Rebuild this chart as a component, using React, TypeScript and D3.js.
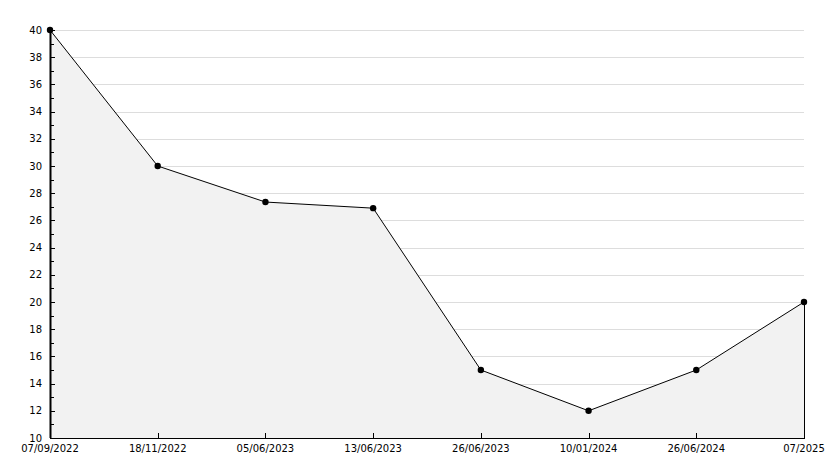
import React, { useEffect, useRef } from "react";
import * as d3 from "d3";

const categories = ["07/09/2022", "18/11/2022", "05/06/2023", "13/06/2023", "26/06/2023", "10/01/2024", "26/06/2024", "07/2025"];
const values = [40, 30, 27.35, 26.9, 15, 12, 15, 20];
const yMajorTicks = [10, 12, 14, 16, 18, 20, 22, 24, 26, 28, 30, 32, 34, 36, 38, 40];
const yMinorTicks = [11, 13, 15, 17, 19, 21, 23, 25, 27, 29, 31, 33, 35, 37, 39];

const W = 834;
const H = 468;
const M = { left: 50, right: 30, top: 30, bottom: 30 };

export default function App() {
  const ref = useRef<SVGSVGElement>(null);
  useEffect(() => {
    const svg = d3.select(ref.current);
    svg.selectAll("*").remove();
    const x = d3.scalePoint<string>().domain(categories).range([M.left, W - M.right]);
    const y = d3.scaleLinear().domain([10, 40]).range([H - M.bottom, M.top]);
    const font = "DejaVu Sans, sans-serif";

    // grid
    svg.append("g")
      .selectAll("line")
      .data(yMajorTicks.filter((t) => t !== 10))
      .join("line")
      .attr("x1", M.left).attr("x2", W - M.right)
      .attr("y1", (d) => Math.round(y(d)) + 0.5).attr("y2", (d) => Math.round(y(d)) + 0.5)
      .attr("stroke", "#dddddd").attr("stroke-width", 1);

    // area
    const area = d3.area<number>()
      .x((_, i) => x(categories[i])!)
      .y0(y(10))
      .y1((d) => y(d));
    svg.append("path").datum(values).attr("d", area).attr("fill", "#f2f2f2");

    // right edge of area
    const last = values.length - 1;
    svg.append("line")
      .attr("x1", x(categories[last])! + 0.5).attr("x2", x(categories[last])! + 0.5)
      .attr("y1", y(values[last])).attr("y2", y(10))
      .attr("stroke", "#000").attr("stroke-width", 1);

    // line
    const line = d3.line<number>()
      .x((_, i) => x(categories[i])!)
      .y((d) => y(d));
    svg.append("path").datum(values).attr("d", line).attr("fill", "none").attr("stroke", "#000").attr("stroke-width", 1);

    // markers
    svg.append("g").selectAll("circle").data(values).join("circle")
      .attr("cx", (_, i) => x(categories[i])!)
      .attr("cy", (d) => y(d))
      .attr("r", 3.2).attr("fill", "#000");

    // y axis
    const ay = svg.append("g");
    ay.append("line").attr("x1", M.left + 0.5).attr("x2", M.left + 0.5)
      .attr("y1", M.top).attr("y2", y(10)).attr("stroke", "#000").attr("stroke-width", 2);
    ay.selectAll("line.maj").data(yMajorTicks).join("line").attr("class", "maj")
      .attr("x1", M.left).attr("x2", M.left + 5)
      .attr("y1", (d) => Math.round(y(d)) + 0.5).attr("y2", (d) => Math.round(y(d)) + 0.5)
      .attr("stroke", "#000");
    ay.selectAll("line.min").data(yMinorTicks).join("line").attr("class", "min")
      .attr("x1", M.left).attr("x2", M.left + 4)
      .attr("y1", (d) => Math.round(y(d)) + 0.5).attr("y2", (d) => Math.round(y(d)) + 0.5)
      .attr("stroke", "#000");
    ay.selectAll("text").data(yMajorTicks).join("text")
      .attr("x", M.left - 8).attr("y", (d) => y(d) + 3.5)
      .attr("text-anchor", "end").attr("font-family", font).attr("font-size", 10).attr("fill", "#000")
      .text((d) => String(d));

    // x axis
    const ax = svg.append("g");
    ax.append("line").attr("x1", M.left).attr("x2", W - M.right + 1)
      .attr("y1", y(10) + 0.5).attr("y2", y(10) + 0.5).attr("stroke", "#000").attr("stroke-width", 1);
    ax.selectAll("line.t").data(categories).join("line").attr("class", "t")
      .attr("x1", (d) => Math.round(x(d)!) + 0.5).attr("x2", (d) => Math.round(x(d)!) + 0.5)
      .attr("y1", y(10)).attr("y2", y(10) - 5).attr("stroke", "#000");
    ax.selectAll("text").data(categories).join("text")
      .attr("x", (d) => x(d)!).attr("y", y(10) + 14)
      .attr("text-anchor", "middle").attr("font-family", font).attr("font-size", 10).attr("fill", "#000")
      .text((d) => d);
  }, []);
  return (
    <svg ref={ref} width={W} height={H} style={{ position: "absolute", left: 0, top: 0, background: "#fff" }} />
  );
}
